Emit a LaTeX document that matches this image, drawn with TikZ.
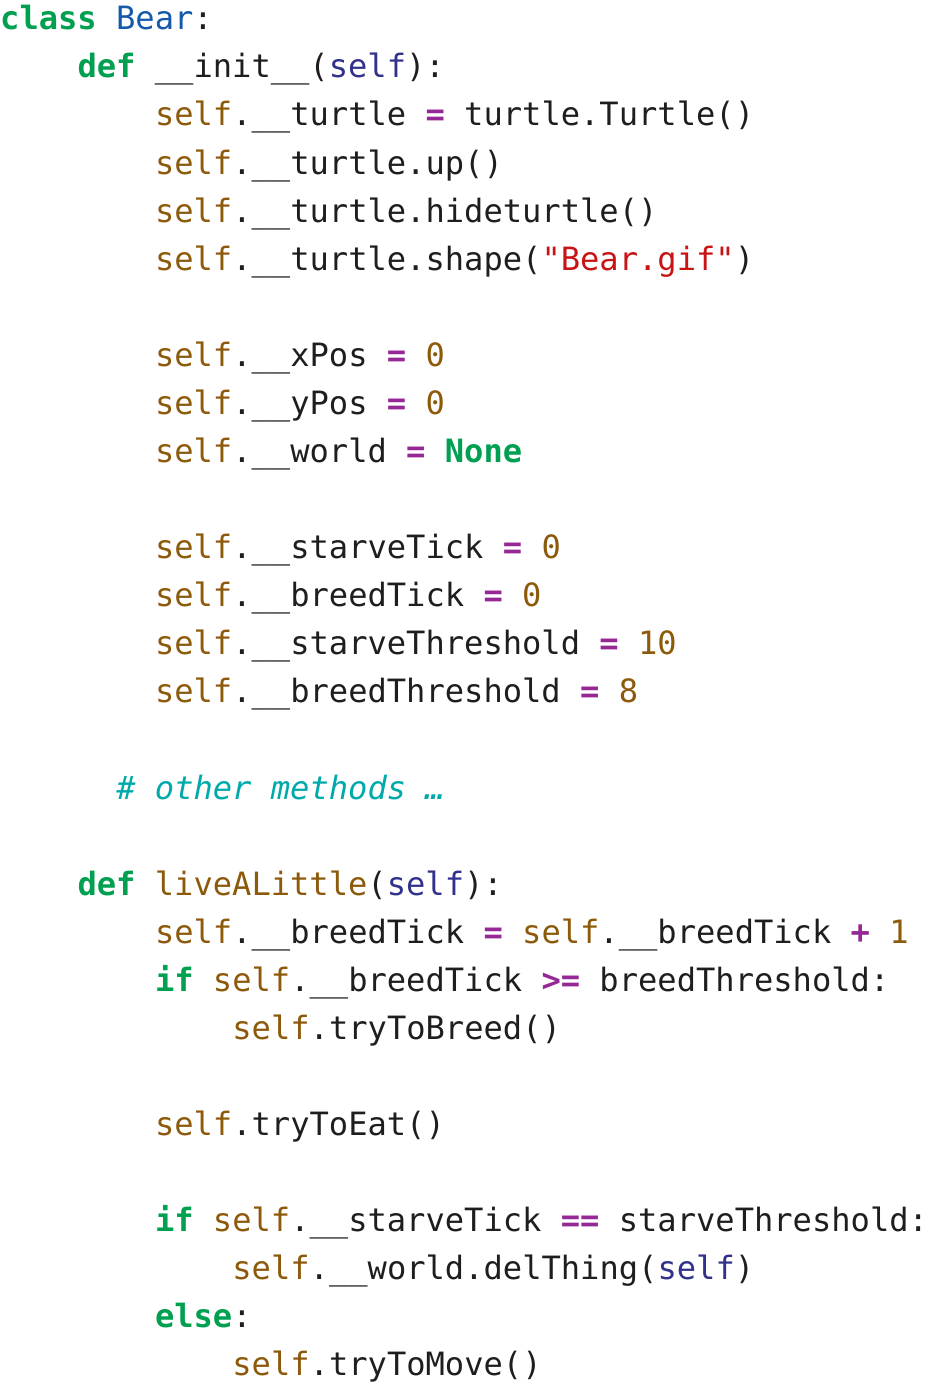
\documentclass[tikz,border=0pt]{standalone}
\usepackage{fontspec}
\setmonofont{DejaVu Sans Mono}
\definecolor{kwc}{RGB}{0,160,80}
\definecolor{clsc}{RGB}{20,90,170}
\definecolor{prmc}{RGB}{50,50,140}
\definecolor{slfc}{RGB}{140,90,10}
\definecolor{opc}{RGB}{150,40,150}
\definecolor{strc}{RGB}{200,20,20}
\definecolor{cmtc}{RGB}{0,170,170}
\definecolor{txtc}{RGB}{30,30,30}
\newcommand\kwd[1]{\textcolor{kwc}{\bfseries #1}}
\newcommand\clsn[1]{\textcolor{clsc}{#1}}
\newcommand\prm[1]{\textcolor{prmc}{#1}}
\newcommand\slf[1]{\textcolor{slfc}{#1}}
\newcommand\opr[1]{\textcolor{opc}{\bfseries #1}}
\newcommand\strg[1]{\textcolor{strc}{#1}}
\newcommand\cmt[1]{\textcolor{cmtc}{\itshape #1}}
\newcommand\U{\_\_}
\begin{document}
\begin{tikzpicture}[x=1pt,y=1pt,
  codeline/.style={anchor=base west,inner sep=0pt,text=txtc,
    font=\ttfamily\fontsize{32.1}{40}\selectfont}]
\useasboundingbox (0,0) rectangle (934,-1386);
\def\cw{19.35}
\node[codeline] (l1) at (0*\cw,-30) {\kwd{class} \clsn{Bear}:};
\node[codeline] (l2) at (4*\cw,-78) {\kwd{def} \U init\U(\prm{self}):};
\node[codeline] (l3) at (8*\cw,-126) {\slf{self}.\U turtle \opr{=} turtle.Turtle()};
\node[codeline] (l4) at (8*\cw,-174) {\slf{self}.\U turtle.up()};
\node[codeline] (l5) at (8*\cw,-222) {\slf{self}.\U turtle.hideturtle()};
\node[codeline] (l6) at (8*\cw,-270) {\slf{self}.\U turtle.shape(\strg{"Bear.gif"})};
\node[codeline] (l7) at (8*\cw,-366) {\slf{self}.\U xPos \opr{=} \slf{0}};
\node[codeline] (l8) at (8*\cw,-414) {\slf{self}.\U yPos \opr{=} \slf{0}};
\node[codeline] (l9) at (8*\cw,-462) {\slf{self}.\U world \opr{=} \kwd{None}};
\node[codeline] (l10) at (8*\cw,-558) {\slf{self}.\U starveTick \opr{=} \slf{0}};
\node[codeline] (l11) at (8*\cw,-606) {\slf{self}.\U breedTick \opr{=} \slf{0}};
\node[codeline] (l12) at (8*\cw,-654) {\slf{self}.\U starveThreshold \opr{=} \slf{10}};
\node[codeline] (l13) at (8*\cw,-702) {\slf{self}.\U breedThreshold \opr{=} \slf{8}};
\node[codeline] (l14) at (6*\cw,-799) {\cmt{\# other methods …}};
\node[codeline] (l15) at (4*\cw,-895) {\kwd{def} \slf{liveALittle}(\prm{self}):};
\node[codeline] (l16) at (8*\cw,-943) {\slf{self}.\U breedTick \opr{=} \slf{self}.\U breedTick \opr{+} \slf{1}};
\node[codeline] (l17) at (8*\cw,-991) {\kwd{if} \slf{self}.\U breedTick \opr{>=} breedThreshold:};
\node[codeline] (l18) at (12*\cw,-1039) {\slf{self}.tryToBreed()};
\node[codeline] (l19) at (8*\cw,-1135) {\slf{self}.tryToEat()};
\node[codeline] (l20) at (8*\cw,-1231) {\kwd{if} \slf{self}.\U starveTick \opr{==} starveThreshold:};
\node[codeline] (l21) at (12*\cw,-1279) {\slf{self}.\U world.delThing(\prm{self})};
\node[codeline] (l22) at (8*\cw,-1327) {\kwd{else}:};
\node[codeline] (l23) at (12*\cw,-1375) {\slf{self}.tryToMove()};
\end{tikzpicture}
\end{document}
